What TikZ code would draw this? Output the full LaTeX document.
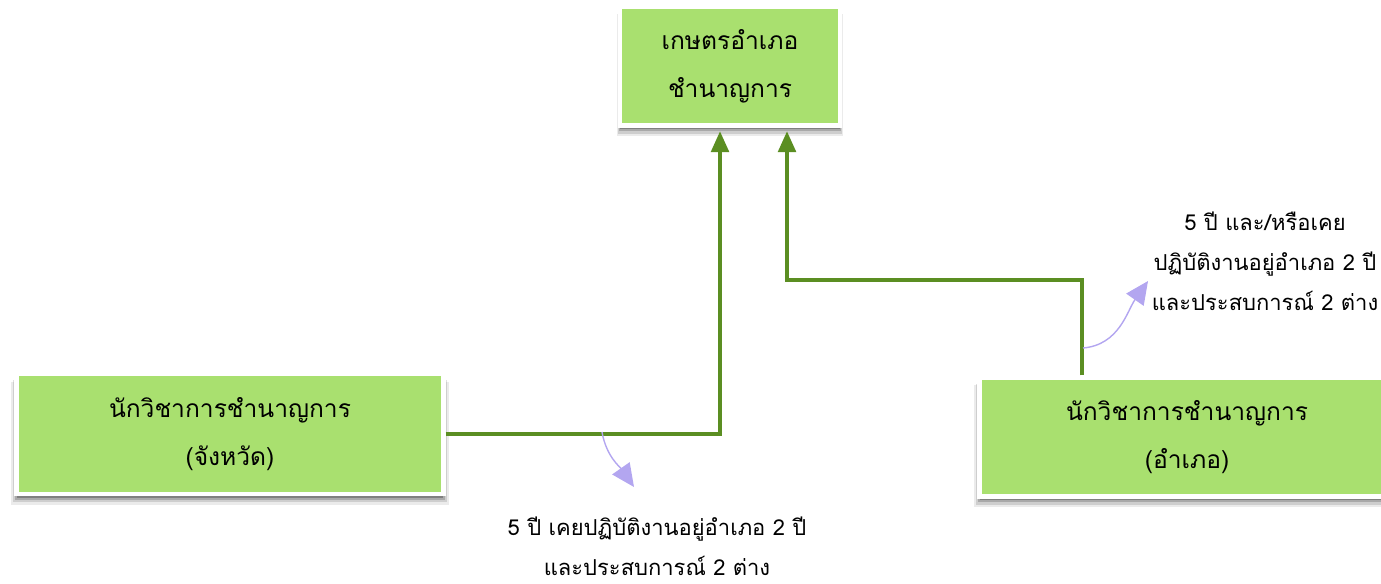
\documentclass[tikz,border=0pt]{standalone}
\usepackage{fontspec}
\newfontfamily\thaifont[Script=Thai]{Loma}
\usetikzlibrary{arrows.meta,shadows,positioning,calc}
\definecolor{boxgreen}{HTML}{A9E06F}
\definecolor{linegreen}{HTML}{5B8E22}
\definecolor{notepurple}{HTML}{B3A6F0}

\begin{document}
\begin{tikzpicture}[x=0.02cm, y=-0.02cm,
    font=\thaifont\fontsize{14}{27.5}\selectfont,
    block/.style={rectangle, draw=white, line width=2.4pt, fill=boxgreen, align=center,
        drop shadow={shadow xshift=0pt, shadow yshift=-5pt, shadow scale=1.025, opacity=0.08, fill=black},
        drop shadow={shadow xshift=0pt, shadow yshift=-4pt, shadow scale=1.015, opacity=0.12, fill=black},
        drop shadow={shadow xshift=0pt, shadow yshift=-3pt, shadow scale=1.008, opacity=0.18, fill=black},
        drop shadow={shadow xshift=0pt, shadow yshift=-2pt, opacity=0.25, fill=black}},
    link/.style={draw=linegreen, line width=2.3pt, -{Triangle[width=10pt,length=12pt]}},
    note/.style={draw=notepurple, line width=0.8pt, -{Triangle[width=12pt,length=13pt]}},
    label/.style={align=center, font=\thaifont\fontsize{12.5}{22.7}\selectfont}]

    % Frame of the page
    \useasboundingbox (0,0) rectangle (1381,583);
    \clip (0,0) rectangle (1381,583);

    % Boxes
    \node [block, minimum width=4.4cm, minimum height=2.38cm] (head) at (730,66) {เกษตรอำเภอ\\ชำนาญการ};
    \node [block, minimum width=8.54cm, minimum height=2.4cm] (province) at (230,434) {นักวิชาการชำนาญการ\\(จังหวัด)};
    \node [block, minimum width=8.3cm, minimum height=2.38cm] (district) at (1187,437) {นักวิชาการชำนาญการ\\(อำเภอ)};

    % Conditions
    \node [label] (province_rule) at (657,546) {5 ปี เคยปฏิบัติงานอยู่อำเภอ 2 ปี\\และประสบการณ์ 2 ต่าง};
    \node [label] (district_rule) at (1265,261) {5 ปี และ/หรือเคย\\ปฏิบัติงานอยู่อำเภอ 2 ปี\\และประสบการณ์ 2 ต่าง};

    % Connections
    \coordinate (bend) at (1082,280);
    \draw [link, shorten >=2pt] (province.east) -| ($(head.south)+(-10,0)$);
    \draw [link, shorten >=2pt] (bend |- district.north) -- (bend) -| ($(head.south)+(57,0)$);

    % Notes
    \coordinate (province_tip) at (602,432);
    \coordinate (district_tip) at (1083,348);
    \draw [note] (province_tip) to[out=-80, in=125] (634,487);
    \draw [note] (district_tip) to[out=5, in=-125] (1148,281);

\end{tikzpicture}
\end{document}
